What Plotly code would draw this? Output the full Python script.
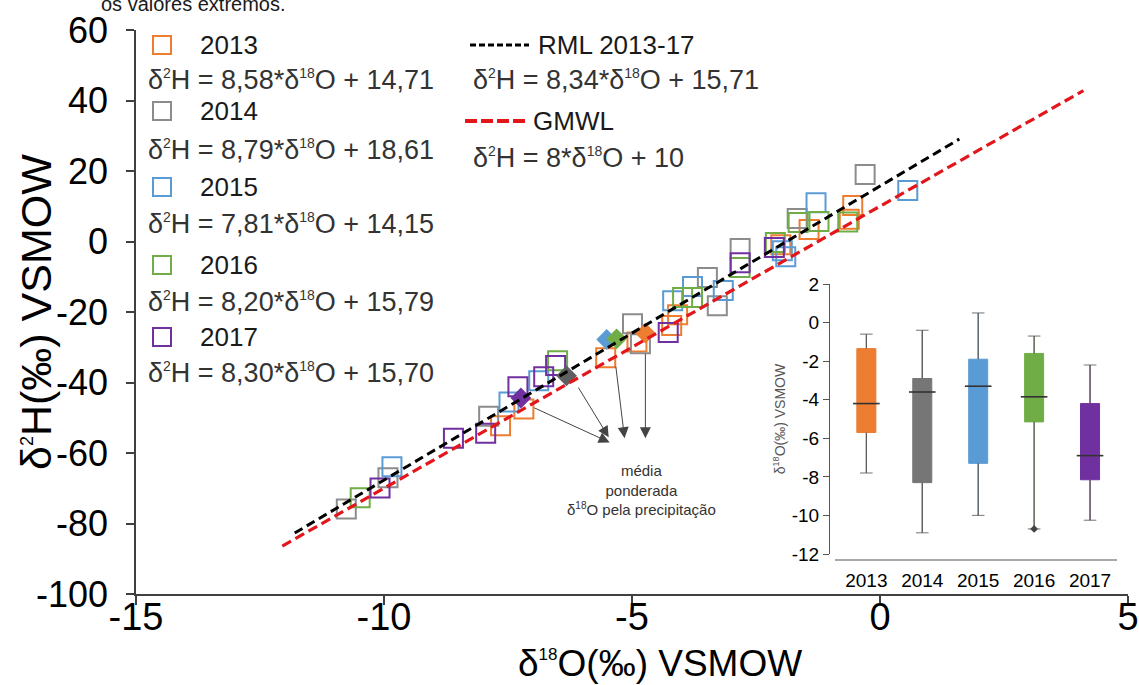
import plotly.graph_objects as go

W, H = 1139, 685
REG = "Liberation Sans, Arial, sans-serif"

years = ["2013", "2014", "2015", "2016", "2017"]
colors = ["#ED7D31", "#8C8C8C", "#5B9BD5", "#70AD47", "#7030A0"]
box_colors = ["#ED7D31", "#767676", "#5B9BD5", "#70AD47", "#7030A0"]
diamond_colors = ["#ED7D31", "#5F5F5F", "#5B9BD5", "#70AD47", "#7030A0"]

# delta18O, delta2H samples per year
o18_2013 = [-0.55, -0.62, -1.43, -2.0, -4.08, -4.2, -4.9, -5.53, -7.18, -7.65]
h2_2013 = [10.2, 6.3, 3.4, -0.9, -20.8, -23.8, -28.5, -33.0, -47.5, -52.3]
o18_2014 = [-0.3, -1.67, -2.82, -3.48, -3.28, -4.99, -4.83, -7.89, -9.92, -10.76]
h2_2014 = [19.0, 6.5, -2.0, -10.2, -18.2, -23.3, -29.0, -49.6, -67.0, -75.9]
o18_2015 = [0.56, -1.29, -1.97, -1.9, -3.16, -3.78, -4.18, -6.88, -7.48, -9.84]
h2_2015 = [14.5, 11.0, -2.6, -4.3, -13.9, -12.8, -16.8, -39.5, -45.5, -63.9]
o18_2016 = [-0.65, -1.23, -1.65, -2.11, -2.82, -3.98, -3.78, -6.5, -10.48]
h2_2016 = [5.5, 5.7, 5.4, -0.3, -7.4, -15.9, -15.9, -33.8, -72.7]
o18_2017 = [-2.13, -2.82, -4.27, -6.54, -6.78, -7.3, -7.95, -8.6, -10.08]
h2_2017 = [-1.7, -6.0, -25.8, -35.2, -38.4, -41.2, -54.4, -55.8, -69.9]
o18_all = [o18_2013, o18_2014, o18_2015, o18_2016, o18_2017]
h2_all = [h2_2013, h2_2014, h2_2015, h2_2016, h2_2017]

# precipitation-weighted means
wm_o18 = [-4.73, -6.32, -5.51, -5.31, -7.24]
wm_h2 = [-26.0, -38.1, -27.8, -27.6, -44.4]

# lines
rml_slope, rml_int = 8.34, 15.71
rml_x = [-11.8, 1.6]
gmwl_slope, gmwl_int = 8.0, 10.0
gmwl_x = [-12.05, 4.1]

eq_slopes = ["8,58", "8,79", "7,81", "8,20", "8,30"]
eq_ints = ["14,71", "18,61", "14,15", "15,79", "15,70"]

# main axis ticks
x_ticks = [-15, -10, -5, 0, 5]
y_ticks = [-100, -80, -60, -40, -20, 0, 20, 40, 60]

# inset boxplot of delta18O
bx_upper = [-0.6, -0.4, 0.5, -0.7, -2.2]
bx_q3 = [-1.35, -2.9, -1.9, -1.6, -4.2]
bx_med = [-4.2, -3.6, -3.3, -3.85, -6.9]
bx_q1 = [-5.7, -8.3, -7.3, -5.15, -8.15]
bx_lower = [-7.8, -10.9, -10.0, -10.7, -10.25]
extreme_year = ["2016"]
extreme_val = [-10.7]
inset_ticks = [-12, -10, -8, -6, -4, -2, 0, 2]


def px(x):
    return x / W


def py(y):
    return 1 - y / H


def sup(t, s=14):
    return f"<sup><span style='font-size:{s}px'>{t}</span></sup>"


fig = go.Figure()

for i, y in enumerate(years):
    fig.add_trace(go.Scatter(
        x=o18_all[i], y=h2_all[i], mode="markers",
        marker=dict(symbol="square-open", size=19, color=colors[i], line=dict(width=2, color=colors[i])),
        showlegend=False, xaxis="x", yaxis="y"))

fig.add_trace(go.Scatter(
    x=wm_o18, y=wm_h2, mode="markers",
    marker=dict(symbol="diamond", size=16, color=diamond_colors, line=dict(width=0)),
    showlegend=False))

fig.add_trace(go.Scatter(
    x=rml_x, y=[rml_slope * v + rml_int for v in rml_x], mode="lines",
    line=dict(color="black", width=3, dash="9px,5px"), showlegend=False))
fig.add_trace(go.Scatter(
    x=gmwl_x, y=[gmwl_slope * v + gmwl_int for v in gmwl_x], mode="lines",
    line=dict(color="#E3161B", width=3.2, dash="10px,5px"), showlegend=False))

# inset boxes
for i, y in enumerate(years):
    fig.add_trace(go.Box(
        x=[y], q1=[bx_q1[i]], median=[bx_med[i]], q3=[bx_q3[i]],
        lowerfence=[bx_lower[i]], upperfence=[bx_upper[i]],
        fillcolor=box_colors[i], line=dict(color=box_colors[i], width=1),
        whiskerwidth=0, width=0.34, boxpoints=False, showlegend=False,
        xaxis="x2", yaxis="y2"))
    fig.add_trace(go.Scatter(
        x=[y, y, None, y, y], y=[bx_q3[i], bx_upper[i], None, bx_q1[i], bx_lower[i]],
        mode="lines+markers", line=dict(color="#595959", width=1.2),
        marker=dict(symbol="line-ew-open", size=[0, 9, 0, 0, 9], color="#595959",
                    line=dict(color="#595959", width=1.2)),
        showlegend=False, xaxis="x2", yaxis="y2"))
    fig.add_trace(go.Scatter(
        x=[y], y=[bx_med[i]], mode="markers",
        marker=dict(symbol="line-ew-open", size=19, color="#333333", line=dict(color="#333333", width=1.6)),
        showlegend=False, xaxis="x2", yaxis="y2"))

fig.add_trace(go.Scatter(
    x=extreme_year, y=extreme_val, mode="markers",
    marker=dict(symbol="diamond", size=6, color="#444444"),
    showlegend=False, xaxis="x2", yaxis="y2"))

axcol = "#404040"
fig.update_layout(
    width=W, height=H, margin=dict(l=0, r=0, t=0, b=0),
    paper_bgcolor="white", plot_bgcolor="rgba(0,0,0,0)",
    font=dict(family=REG, color="black"),
    xaxis=dict(domain=[px(136), px(1128)], range=[-15, 5], showgrid=False, zeroline=False,
               showline=True, linecolor=axcol, linewidth=1.5, ticks="outside", ticklen=9,
               tickwidth=1.5, tickcolor=axcol, tickvals=x_ticks, ticktext=[str(v) for v in x_ticks],
               tickfont=dict(family=REG, size=38, color="black"), automargin=False,
               ticklabelstandoff=-20, anchor="y"),
    yaxis=dict(domain=[py(594), py(30)], range=[-100, 60], showgrid=False, zeroline=False,
               showline=True, linecolor=axcol, linewidth=1.5, ticks="outside", ticklen=8,
               tickwidth=1.5, tickcolor=axcol, tickvals=y_ticks, ticktext=[str(v) for v in y_ticks],
               tickfont=dict(family=REG, size=36, color="black"), automargin=False,
               ticklabelstandoff=11, anchor="x"),
    xaxis2=dict(domain=[px(830), px(1118)], range=[-0.65, 4.5], type="category",
                categoryorder="array", categoryarray=years, showgrid=False, zeroline=False,
                showline=False, ticks="outside", ticklen=9, tickcolor="rgba(0,0,0,0)", automargin=False,
                tickfont=dict(family=REG, size=19, color="black"), anchor="y2"),
    yaxis2=dict(domain=[py(554), py(284)], range=[-12, 2], showgrid=False, zeroline=False,
                showline=True, linecolor="#555555", linewidth=1.2, ticks="outside", ticklen=6,
                tickcolor="#555555", tickvals=inset_ticks, ticktext=[str(v) for v in inset_ticks],
                tickfont=dict(family=REG, size=19, color="black"), automargin=False,
                title=dict(text="δ" + sup("18", 9) + "O(‰) VSMOW", font=dict(family=REG, size=14, color="#555555"),
                           standoff=2),
                anchor="x2"),
)

shapes = []
annotations = []

# axis titles
annotations.append(dict(text="δ" + sup("18", 17) + "O(‰) VSMOW", x=px(660), y=py(663), xref="paper",
                        yref="paper", xanchor="center", yanchor="middle", showarrow=False,
                        font=dict(family=REG, size=37, color="black")))
annotations.append(dict(text="δ" + sup("2", 18) + "H(‰) VSMOW", x=px(36), y=py(312), xref="paper",
                        yref="paper", xanchor="center", yanchor="middle", showarrow=False, textangle=-90,
                        font=dict(family=REG, size=43, color="black")))

shapes.append(dict(type="line", xref="paper", yref="paper", x0=px(835), x1=px(1117), y0=py(560), y1=py(560),
                   line=dict(color="#555555", width=1.2)))

sq_y = [45, 111, 187, 265, 337]
eq_y = [80, 150, 224, 302, 373]
for i, y in enumerate(years):
    shapes.append(dict(type="rect", xref="paper", yref="paper",
                       x0=px(153), x1=px(171), y0=py(sq_y[i] + 9), y1=py(sq_y[i] - 9),
                       line=dict(color=colors[i], width=2)))
    annotations.append(dict(text=y, x=px(198), y=py(sq_y[i]), xref="paper", yref="paper",
                            xanchor="left", yanchor="middle", showarrow=False,
                            font=dict(family=REG, size=26, color="#1a1a1a")))
    annotations.append(dict(text=f"δ{sup('2')}H = {eq_slopes[i]}*δ{sup('18')}O + {eq_ints[i]}",
                            x=px(146), y=py(eq_y[i]), xref="paper", yref="paper",
                            xanchor="left", yanchor="middle", showarrow=False,
                            font=dict(family=REG, size=27, color="#333333")))

shapes.append(dict(type="line", xref="paper", yref="paper", x0=px(470), x1=px(529), y0=py(45), y1=py(45),
                   line=dict(color="black", width=3, dash="6px,3px")))
shapes.append(dict(type="line", xref="paper", yref="paper", x0=px(465), x1=px(526), y0=py(121), y1=py(121),
                   line=dict(color="#E3161B", width=4, dash="12px,4px")))
annotations.append(dict(text="RML 2013-17", x=px(536), y=py(45), xref="paper", yref="paper",
                        xanchor="left", yanchor="middle", showarrow=False,
                        font=dict(family=REG, size=26, color="#1a1a1a")))
annotations.append(dict(text=f"δ{sup('2')}H = 8,34*δ{sup('18')}O + 15,71", x=px(471), y=py(80),
                        xref="paper", yref="paper", xanchor="left", yanchor="middle", showarrow=False,
                        font=dict(family=REG, size=27, color="#333333")))
annotations.append(dict(text="GMWL", x=px(531), y=py(121), xref="paper", yref="paper",
                        xanchor="left", yanchor="middle", showarrow=False,
                        font=dict(family=REG, size=26, color="#1a1a1a")))
annotations.append(dict(text=f"δ{sup('2')}H = 8*δ{sup('18')}O + 10", x=px(471), y=py(158),
                        xref="paper", yref="paper", xanchor="left", yanchor="middle", showarrow=False,
                        font=dict(family=REG, size=27, color="#333333")))

annotations.append(dict(text="os valores extremos.", x=px(99), y=py(17), xref="paper", yref="paper",
                        xanchor="left", yanchor="bottom", showarrow=False,
                        font=dict(family=REG, size=20, color="#1a1a1a")))

annotations.append(dict(text="média<br>ponderada<br>δ" + sup("18", 10) + "O pela precipitação",
                        x=px(641), y=py(490), xref="paper", yref="paper", xanchor="center", yanchor="middle",
                        showarrow=False, font=dict(family=REG, size=15, color="#333333")))

arrow_tail_x = [-7.0, -6.1, -5.33, -4.73]
arrow_tail_y = [-47.0, -41.0, -35.0, -31.5]
arrow_head_x = [-5.45, -5.47, -5.15, -4.73]
arrow_head_y = [-57.0, -55.5, -55.8, -55.8]
for i in range(4):
    annotations.append(dict(x=arrow_head_x[i], y=arrow_head_y[i], ax=arrow_tail_x[i], ay=arrow_tail_y[i],
                            xref="x", yref="y", axref="x", ayref="y", text="", showarrow=True,
                            arrowhead=2, arrowsize=2.2, arrowwidth=1, arrowcolor="#444444"))

fig.update_layout(shapes=shapes, annotations=annotations)
fig.write_html("out.html")
